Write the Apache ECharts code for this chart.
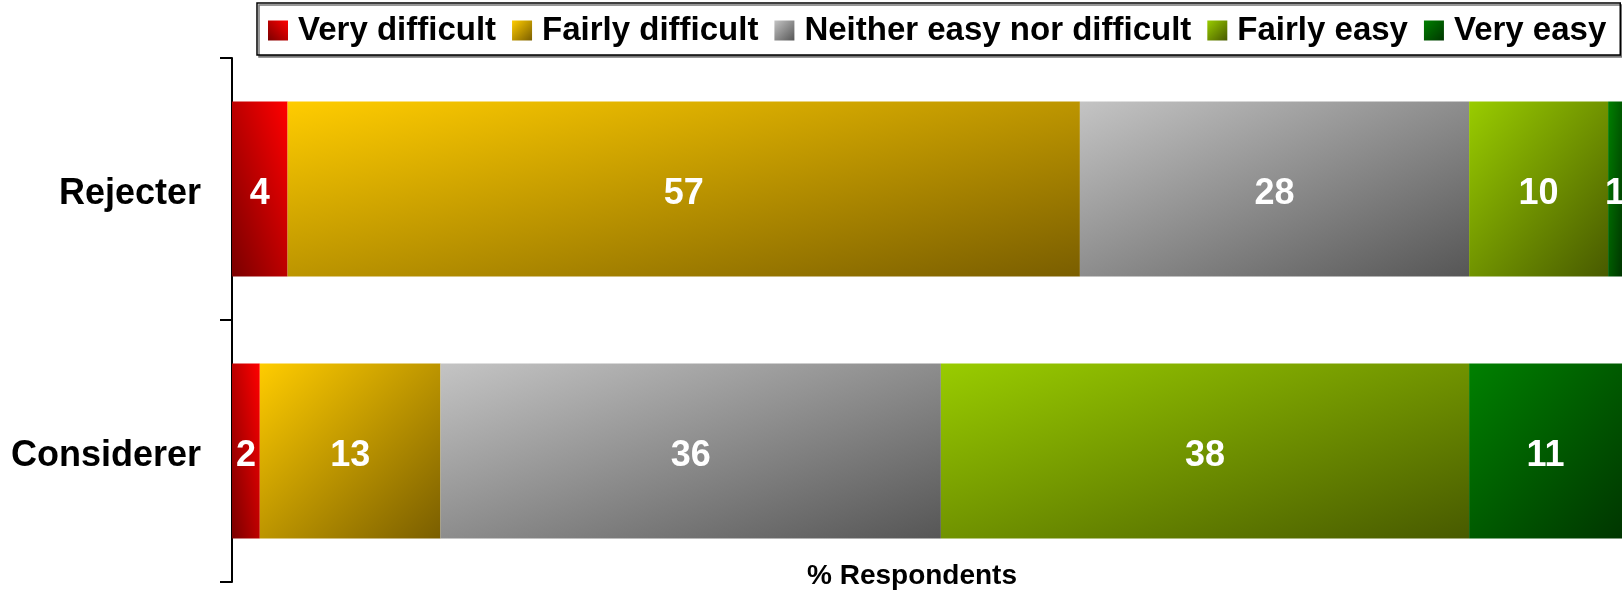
<!DOCTYPE html>
<html>
<head>
<meta charset="utf-8">
<script src="https://cdn.jsdelivr.net/npm/echarts@6/dist/echarts.min.js"></script>
<style>
html,body{margin:0;padding:0;background:#fff;}
#chart{width:1622px;height:591px;}
</style>
</head>
<body>
<div id="chart"></div>
<script>
// ---- data ----
const categories = ['Rejecter', 'Considerer'];
const seriesNames = ['Very difficult', 'Fairly difficult', 'Neither easy nor difficult', 'Fairly easy', 'Very easy'];
const veryDifficult = [4, 2];
const fairlyDifficult = [57, 13];
const neitherEasyNorDifficult = [28, 36];
const fairlyEasy = [10, 38];
const veryEasy = [1, 11];
const axisTitle = '% Respondents';

// ---- styles ----
const FONT = "'Liberation Sans', Arial, sans-serif";
const W = 1622, H = 591;
const GRID = {left: 232, right: 0, top: 58, bottom: 9};
const BAR_H = 175;
const X_MAX = 100;
const palette = [
  {c1: '#ff0000', c2: '#7a0000', up: true},
  {c1: '#ffcc00', c2: '#7a5e00', up: false},
  {c1: '#c4c4c4', c2: '#565656', up: false},
  {c1: '#99cc00', c2: '#485a00', up: false},
  {c1: '#008000', c2: '#003600', up: false}
];

function diagGrad(w, h, p) {
  const d = w * w + h * h;
  const fx = 2 * h * h / d, fy = 2 * w * w / d;
  const stops = [{offset: 0, color: p.c1}, {offset: 1, color: p.c2}];
  if (p.up) return new echarts.graphic.LinearGradient(1, 0, 1 - fx, fy, stops);
  return new echarts.graphic.LinearGradient(0, 0, fx, fy, stops);
}

const chart = echarts.init(document.getElementById('chart'), null, {renderer: 'canvas'});
const pxPerUnit = (W - GRID.left - GRID.right) / X_MAX;
const allValues = [veryDifficult, fairlyDifficult, neitherEasyNorDifficult, fairlyEasy, veryEasy];

const series = allValues.map((vals, si) => ({
  name: seriesNames[si],
  type: 'bar',
  stack: 'total',
  barWidth: BAR_H,
  itemStyle: {color: diagGrad(1, 1, palette[si])},
  label: {
    show: true,
    position: 'inside',
    offset: [0, 5],
    color: '#fff',
    fontFamily: FONT,
    fontWeight: 'bold',
    fontSize: 36
  },
  data: vals.map(v => ({
    value: v,
    itemStyle: {color: diagGrad(Math.max(v * pxPerUnit, 1), BAR_H, palette[si])}
  }))
}));

chart.setOption({
  animation: false,
  backgroundColor: '#fff',
  legend: {
    data: seriesNames,
    left: 257,
    top: 3,
    itemWidth: 20,
    itemHeight: 20,
    itemGap: 16,
    padding: [11, 14, 8, 11],
    borderColor: '#000',
    borderWidth: 1.5,
    backgroundColor: '#fff',
    shadowColor: '#777',
    shadowOffsetX: 2,
    shadowOffsetY: 2,
    shadowBlur: 0,
    icon: 'rect',
    textStyle: {
      fontFamily: FONT,
      fontWeight: 'bold',
      fontSize: 33,
      color: '#000',
      padding: [0, 0, 0, 5]
    }
  },
  grid: {left: GRID.left, right: GRID.right, top: GRID.top, bottom: GRID.bottom, containLabel: false},
  xAxis: {
    type: 'value',
    min: 0,
    max: X_MAX,
    show: false
  },
  yAxis: {
    type: 'category',
    data: categories,
    inverse: true,
    axisLine: {show: true, lineStyle: {color: '#000', width: 2}},
    axisTick: {show: true, length: 12, lineStyle: {color: '#000', width: 2}},
    axisLabel: {
      margin: 31,
      formatter: v => '{a|' + v + '}',
      rich: {
        a: {
          padding: [10, 0, 0, 0],
          color: '#000',
          fontFamily: FONT,
          fontWeight: 'bold',
          fontSize: 36
        }
      }
    }
  },
  graphic: [{
    type: 'text',
    x: 912,
    y: 576,
    style: {
      text: axisTitle,
      fill: '#000',
      font: "bold 28px 'Liberation Sans', Arial, sans-serif",
      align: 'center',
      verticalAlign: 'middle',
      textAlign: 'center',
      textVerticalAlign: 'middle'
    }
  }],
  series: series
});
</script>
</body>
</html>
